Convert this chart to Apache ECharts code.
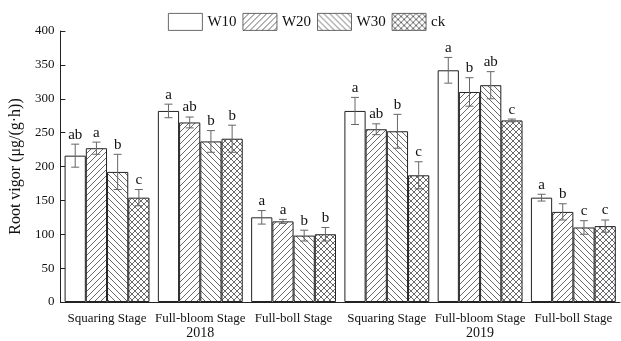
<!DOCTYPE html>
<html>
<head>
<meta charset="utf-8">
<script src="https://cdn.jsdelivr.net/npm/echarts@6/dist/echarts.min.js"></script>
<style>
  html, body { margin: 0; padding: 0; background: #fff; }
  #chart { width: 621px; height: 341px; }
</style>
</head>
<body>
<div id="chart"></div>
<script>
// Growth stages in two seasons
const categories = ['Squaring Stage', 'Full-bloom Stage', 'Full-boll Stage',
                    'Squaring Stage', 'Full-bloom Stage', 'Full-boll Stage'];
const years = ['', '2018', '', '', '2019', ''];
const treatments = ['W10', 'W20', 'W30', 'ck'];

// Mean root vigor, μg/(g·h)
const w10 = [216, 282, 125, 282, 342, 154];
const w20 = [227, 265, 119, 255, 310, 133];
const w30 = [192, 237, 98, 252, 320, 110];
const ck  = [154, 241, 100, 187, 268, 112];

// Standard deviations
const w10Err = [17, 10, 10, 20, 19, 5];
const w20Err = [9, 8, 3, 8, 21, 12];
const w30Err = [26, 16, 8, 25, 20, 10];
const ckErr  = [12, 20, 10, 20, 2, 9];

// Significance letters
const w10Sig = ['ab', 'a', 'a', 'a', 'a', 'a'];
const w20Sig = ['a', 'ab', 'a', 'ab', 'b', 'b'];
const w30Sig = ['b', 'b', 'b', 'b', 'ab', 'c'];
const ckSig  = ['c', 'b', 'b', 'c', 'c', 'c'];

const values = [w10, w20, w30, ck];
const errors = [w10Err, w20Err, w30Err, ckErr];
const letters = [w10Sig, w20Sig, w30Sig, ckSig];

const FONT = 'Liberation Serif';
const CAT_GAP = 0.09;

// Hatch tiles used as bar fills
function hatch(kind) {
  const s = 6;
  const c = document.createElement('canvas');
  c.width = s; c.height = s;
  const g = c.getContext('2d');
  g.fillStyle = '#fff';
  g.fillRect(0, 0, s, s);
  if (kind === 'none') return c;
  g.strokeStyle = '#444';
  g.lineWidth = 0.8;
  g.beginPath();
  if (kind === 'fwd' || kind === 'cross') {
    g.moveTo(-1, s + 1); g.lineTo(s + 1, -1);
    g.moveTo(-1, 1); g.lineTo(1, -1);
    g.moveTo(s - 1, s + 1); g.lineTo(s + 1, s - 1);
  }
  if (kind === 'back' || kind === 'cross') {
    g.moveTo(-1, -1); g.lineTo(s + 1, s + 1);
    g.moveTo(s - 1, -1); g.lineTo(s + 1, 1);
    g.moveTo(-1, s - 1); g.lineTo(1, s + 1);
  }
  g.stroke();
  return c;
}
const fills = [
  '#ffffff',
  { image: hatch('fwd'), repeat: 'repeat' },
  { image: hatch('back'), repeat: 'repeat' },
  { image: hatch('cross'), repeat: 'repeat' }
];

const series = [];
treatments.forEach((name, i) => {
  series.push({
    name: name,
    type: 'bar',
    data: values[i],
    barGap: '0%',
    barCategoryGap: (CAT_GAP * 100) + '%',
    itemStyle: { color: fills[i], borderColor: '#222', borderWidth: 1 },
    emphasis: { disabled: true }
  });
});
treatments.forEach((name, i) => {
  series.push({
    name: name,
    type: 'custom',
    z: 5,
    data: values[i].map((v, k) => [k, v, errors[i][k]]),
    renderItem: function (params, api) {
      const k = api.value(0);
      const v = api.value(1);
      const e = api.value(2);
      const band = api.size([1, 0])[0];
      const bw = band * (1 - CAT_GAP) / 4;
      const center = api.coord([k, v]);
      const x = center[0] + (i - 1.5) * bw;
      const yTop = api.coord([k, v + e])[1];
      const yBot = api.coord([k, v - e])[1];
      const cap = 4;
      const stroke = { stroke: '#666', lineWidth: 1 };
      return {
        type: 'group',
        children: [
          { type: 'line', shape: { x1: x, y1: yTop, x2: x, y2: yBot }, style: stroke },
          { type: 'line', shape: { x1: x - cap, y1: yTop, x2: x + cap, y2: yTop }, style: stroke },
          { type: 'line', shape: { x1: x - cap, y1: yBot, x2: x + cap, y2: yBot }, style: stroke },
          {
            type: 'text',
            style: {
              text: letters[i][params.dataIndex],
              x: x, y: yTop - 2,
              align: 'center', verticalAlign: 'bottom',
              font: '15px "' + FONT + '"', fill: '#111'
            }
          }
        ]
      };
    }
  });
});

const chart = echarts.init(document.getElementById('chart'), null, { renderer: 'canvas' });
chart.setOption({
  animation: false,
  backgroundColor: '#fff',
  legend: {
    data: treatments,
    top: 8,
    left: 163,
    itemWidth: 34,
    itemHeight: 17,
    itemGap: 6,
    icon: 'rect',
    itemStyle: { borderColor: '#444', borderWidth: 0.8 },
    textStyle: { fontFamily: FONT, fontSize: 15, color: '#111' }
  },
  grid: { left: 54, right: 1, top: 31, bottom: 34 },
  xAxis: {
    type: 'category',
    data: categories,
    axisLine: { lineStyle: { color: '#222', width: 1 } },
    axisTick: { inside: true, length: 5, lineStyle: { color: '#222' } },
    axisLabel: {
      interval: 0,
      margin: 9,
      fontFamily: FONT,
      fontSize: 13,
      color: '#111',
      lineHeight: 15,
      formatter: (val, idx) => years[idx] ? val + '\n{yr|' + years[idx] + '}' : val,
      rich: { yr: { fontFamily: FONT, fontSize: 14, color: '#111', lineHeight: 15 } }
    }
  },
  yAxis: {
    type: 'value',
    min: 0, max: 400, interval: 50,
    name: 'Root vigor (μg/(g·h))',
    nameLocation: 'middle',
    nameGap: 32,
    nameRotate: 90,
    nameTextStyle: { fontFamily: FONT, fontSize: 16, color: '#111' },
    axisLine: { show: true, lineStyle: { color: '#222', width: 1 } },
    axisTick: { show: true, inside: true, length: 5, lineStyle: { color: '#222' } },
    splitLine: { show: false },
    axisLabel: { fontFamily: FONT, fontSize: 13, color: '#111', margin: 6 }
  },
  series: series
});
</script>
</body>
</html>
